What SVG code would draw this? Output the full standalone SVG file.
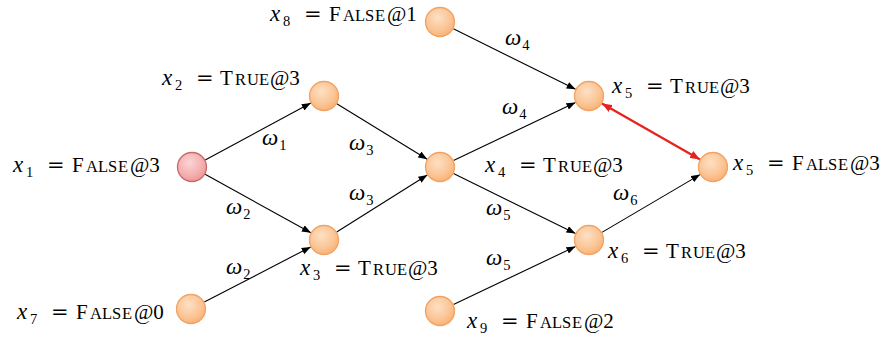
<svg xmlns="http://www.w3.org/2000/svg" width="887" height="339" viewBox="0 0 887 339">
  <defs>
    <radialGradient id="gOrange" cx="0.42" cy="0.35" r="0.7">
      <stop offset="0" stop-color="#FDE0C4"/>
      <stop offset="0.6" stop-color="#FBC697"/>
      <stop offset="1" stop-color="#F8AF73"/>
    </radialGradient>
    <radialGradient id="gPink" cx="0.42" cy="0.35" r="0.7">
      <stop offset="0" stop-color="#FBD4D4"/>
      <stop offset="0.6" stop-color="#F5B1B1"/>
      <stop offset="1" stop-color="#EE9494"/>
    </radialGradient>
    <marker id="arr" viewBox="0 0 9 7" refX="9" refY="3.5" markerWidth="9" markerHeight="7" markerUnits="userSpaceOnUse" orient="auto">
      <path d="M0,0 L9,3.5 L0,7 Z" fill="#000"/>
    </marker>
    <marker id="arrRed" viewBox="0 0 10 8" refX="10" refY="4" markerWidth="10" markerHeight="8" markerUnits="userSpaceOnUse" orient="auto-start-reverse">
      <path d="M0,0 L10,4 L0,8 Z" fill="#E8211D"/>
    </marker>
  </defs>
  <style>
    .node { fill: url(#gOrange); stroke: #F2A263; stroke-width: 1.3; }
    .root { fill: url(#gPink); stroke: #C96A6A; stroke-width: 1.3; }
    .edge { stroke: #000; stroke-width: 1.1; fill: none; marker-end: url(#arr); }
    .conflict { stroke: #E8211D; stroke-width: 2.2; fill: none; marker-start: url(#arrRed); marker-end: url(#arrRed); }
    text { font-family: "Liberation Serif", "Times New Roman", serif; font-size: 21px; fill: #000; }
    .i { font-style: italic; font-size: 23px; }
    .w { font-style: italic; font-size: 23px; }
    .s { font-size: 14.5px; font-style: normal; }
    .sc { font-size: 16.5px; }
    .eq { font-family: "DejaVu Serif", serif; }
  </style>

  <!-- connectors -->
  <g id="edges">
    <line class="edge" x1="205.2" y1="159.9" x2="310.8" y2="103.1"/>
    <line class="edge" x1="205.1" y1="174.3" x2="310.9" y2="232.7"/>
    <line class="edge" x1="204.3" y1="302.1" x2="310.7" y2="246.9"/>
    <line class="edge" x1="336.8" y1="103.8" x2="427.2" y2="159.2"/>
    <line class="edge" x1="336.7" y1="232.0" x2="427.3" y2="175.0"/>
    <line class="edge" x1="453.4" y1="28.7" x2="575.6" y2="89.3"/>
    <line class="edge" x1="453.5" y1="160.5" x2="575.5" y2="102.5"/>
    <line class="edge" x1="453.5" y1="173.6" x2="575.5" y2="233.4"/>
    <line class="edge" x1="453.5" y1="304.5" x2="575.5" y2="246.5"/>
    <line class="edge" x1="601.9" y1="232.4" x2="700.1" y2="174.6"/>
    <line class="conflict" x1="602.0" y1="103.5" x2="700.0" y2="159.5"/>
  </g>

  <!-- edge weights -->
  <g id="weights">
    <text x="262" y="145"><tspan class="w">ω</tspan><tspan class="s" dx="1" dy="5">1</tspan></text>
    <text x="226" y="214"><tspan class="w">ω</tspan><tspan class="s" dx="1" dy="5">2</tspan></text>
    <text x="226" y="274"><tspan class="w">ω</tspan><tspan class="s" dx="1" dy="5">2</tspan></text>
    <text x="349" y="150"><tspan class="w">ω</tspan><tspan class="s" dx="1" dy="5">3</tspan></text>
    <text x="349" y="200"><tspan class="w">ω</tspan><tspan class="s" dx="1" dy="5">3</tspan></text>
    <text x="505" y="45"><tspan class="w">ω</tspan><tspan class="s" dx="1" dy="5">4</tspan></text>
    <text x="502" y="114"><tspan class="w">ω</tspan><tspan class="s" dx="1" dy="5">4</tspan></text>
    <text x="486" y="215"><tspan class="w">ω</tspan><tspan class="s" dx="1" dy="5">5</tspan></text>
    <text x="486" y="265"><tspan class="w">ω</tspan><tspan class="s" dx="1" dy="5">5</tspan></text>
    <text x="613" y="200"><tspan class="w">ω</tspan><tspan class="s" dx="1" dy="5">6</tspan></text>
  </g>

  <!-- nodes -->
  <g id="x1">
    <circle class="root" cx="192" cy="167" r="14.5"/>
    <text transform="translate(13,172)"><tspan class="i" x="0" y="0">x</tspan><tspan class="s" x="13" y="5">1</tspan><tspan class="eq" x="34" y="0">=</tspan><tspan x="59">F</tspan><tspan class="sc" x="73 85 95 105">ALSE</tspan><tspan x="117">@3</tspan></text>
  </g>
  <g id="x2">
    <circle class="node" cx="324" cy="96" r="14.5"/>
    <text transform="translate(162,85)"><tspan class="i" x="0" y="0">x</tspan><tspan class="s" x="13" y="5">2</tspan><tspan class="eq" x="34" y="0">=</tspan><tspan x="58">T</tspan><tspan class="sc" x="73 85 97">RUE</tspan><tspan x="108">@3</tspan></text>
  </g>
  <g id="x3">
    <circle class="node" cx="324" cy="240" r="14.5"/>
    <text transform="translate(300,275)"><tspan class="i" x="0" y="0">x</tspan><tspan class="s" x="13" y="5">3</tspan><tspan class="eq" x="34" y="0">=</tspan><tspan x="58">T</tspan><tspan class="sc" x="73 85 97">RUE</tspan><tspan x="108">@3</tspan></text>
  </g>
  <g id="x4">
    <circle class="node" cx="440" cy="167" r="14.5"/>
    <text transform="translate(485,172)"><tspan class="i" x="0" y="0">x</tspan><tspan class="s" x="13" y="5">4</tspan><tspan class="eq" x="34" y="0">=</tspan><tspan x="58">T</tspan><tspan class="sc" x="73 85 97">RUE</tspan><tspan x="108">@3</tspan></text>
  </g>
  <g id="x5-true">
    <circle class="node" cx="589" cy="96" r="14.5"/>
    <text transform="translate(612,93)"><tspan class="i" x="0" y="0">x</tspan><tspan class="s" x="13" y="5">5</tspan><tspan class="eq" x="34" y="0">=</tspan><tspan x="58">T</tspan><tspan class="sc" x="73 85 97">RUE</tspan><tspan x="108">@3</tspan></text>
  </g>
  <g id="x5-false">
    <circle class="node" cx="713" cy="167" r="14.5"/>
    <text transform="translate(733,170)"><tspan class="i" x="0" y="0">x</tspan><tspan class="s" x="13" y="5">5</tspan><tspan class="eq" x="34" y="0">=</tspan><tspan x="59">F</tspan><tspan class="sc" x="73 85 95 105">ALSE</tspan><tspan x="117">@3</tspan></text>
  </g>
  <g id="x6">
    <circle class="node" cx="589" cy="240" r="14.5"/>
    <text transform="translate(608,258)"><tspan class="i" x="0" y="0">x</tspan><tspan class="s" x="13" y="5">6</tspan><tspan class="eq" x="34" y="0">=</tspan><tspan x="58">T</tspan><tspan class="sc" x="73 85 97">RUE</tspan><tspan x="108">@3</tspan></text>
  </g>
  <g id="x7">
    <circle class="node" cx="191" cy="309" r="14.5"/>
    <text transform="translate(17,319)"><tspan class="i" x="0" y="0">x</tspan><tspan class="s" x="13" y="5">7</tspan><tspan class="eq" x="34" y="0">=</tspan><tspan x="59">F</tspan><tspan class="sc" x="73 85 95 105">ALSE</tspan><tspan x="117">@0</tspan></text>
  </g>
  <g id="x8">
    <circle class="node" cx="440" cy="22" r="14.5"/>
    <text transform="translate(270,21)"><tspan class="i" x="0" y="0">x</tspan><tspan class="s" x="13" y="5">8</tspan><tspan class="eq" x="34" y="0">=</tspan><tspan x="59">F</tspan><tspan class="sc" x="73 85 95 105">ALSE</tspan><tspan x="117">@1</tspan></text>
  </g>
  <g id="x9">
    <circle class="node" cx="440" cy="311" r="14.5"/>
    <text transform="translate(467,328)"><tspan class="i" x="0" y="0">x</tspan><tspan class="s" x="13" y="5">9</tspan><tspan class="eq" x="34" y="0">=</tspan><tspan x="59">F</tspan><tspan class="sc" x="73 85 95 105">ALSE</tspan><tspan x="117">@2</tspan></text>
  </g>
</svg>
